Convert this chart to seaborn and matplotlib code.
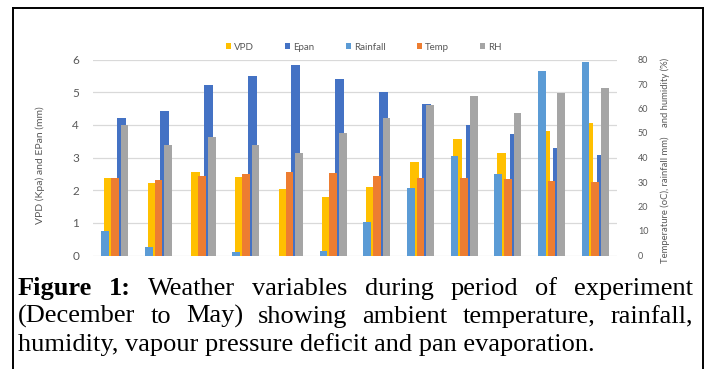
import numpy as np
import pandas as pd
import seaborn as sns
import matplotlib
matplotlib.use("Agg")
import matplotlib.pyplot as plt
from matplotlib.patches import Patch
from matplotlib.lines import Line2D

# ---------------- data ----------------
periods = ["Dec I", "Dec II", "Jan I", "Jan II", "Feb I", "Feb II",
           "Mar I", "Mar II", "Apr I", "Apr II", "May I", "May II"]
vpd = [2.36, 2.21, 2.57, 2.39, 2.04, 1.80, 2.09, 2.85, 3.57, 3.15, 3.80, 4.06]
epan = [4.20, 4.41, 5.21, 5.51, 5.84, 5.41, 5.02, 4.63, 4.01, 3.71, 3.30, 3.09]
rainfall = [10.2, 3.3, 0.0, 1.4, 0.0, 1.8, 13.7, 27.6, 40.8, 33.2, 75.5, 78.8]
temp = [31.8, 30.9, 32.5, 33.2, 34.1, 33.5, 32.5, 31.8, 31.6, 31.2, 30.5, 30.2]
rh = [53.2, 44.9, 48.3, 44.9, 42.0, 50.2, 56.1, 61.4, 65.3, 58.1, 66.3, 68.3]

left_ticks = [0, 1, 2, 3, 4, 5, 6]
right_ticks = [0, 10, 20, 30, 40, 50, 60, 70, 80]

series_names = ["VPD", "Epan", "Rainfall", "Temp", "RH"]
colors = {"VPD": "#FFC000", "Epan": "#4472C4", "Rainfall": "#5B9BD5",
          "Temp": "#ED7D31", "RH": "#A5A5A5"}

left_label = "VPD (Kpa) and EPan (mm)"
right_label = "Temperature (oC), rainfall mm)    and humidity (%)"

caption_line1 = [("Figure", "bold"), ("1:", "bold"), ("Weather", "normal"),
                 ("variables", "normal"), ("during", "normal"), ("period", "normal"),
                 ("of", "normal"), ("experiment", "normal")]
caption_line2 = ["(December", "to", "May)", "showing", "ambient",
                 "temperature,", "rainfall,"]
caption_line3 = "humidity, vapour pressure deficit and pan evaporation."

# ---------------- frames ----------------
df_primary = pd.DataFrame({
    "period": periods * 2,
    "series": ["VPD"] * len(periods) + ["Epan"] * len(periods),
    "value": vpd + epan,
})
df_secondary = pd.DataFrame({
    "period": periods * 3,
    "series": ["Rainfall"] * len(periods) + ["Temp"] * len(periods) + ["RH"] * len(periods),
    "value": rainfall + temp + rh,
})

# ---------------- figure ----------------
W, H = 707, 369
fig = plt.figure(figsize=(W / 100, H / 100), dpi=100)
fig.patch.set_facecolor("white")

ax1 = fig.add_axes([93 / W, 1 - 255.5 / H, 524 / W, 196 / H])
ax2 = ax1.twinx()

tick_color = "#595959"
chart_font = "Lato"

sns.barplot(data=df_primary, x="period", y="value", hue="series",
            hue_order=["VPD", "Epan"], order=periods,
            palette=[colors["VPD"], colors["Epan"]], saturation=1,
            width=0.58, gap=0.27, linewidth=0, errorbar=None,
            legend=False, ax=ax1)
sns.barplot(data=df_secondary, x="period", y="value", hue="series",
            hue_order=["Rainfall", "Temp", "RH"], order=periods,
            palette=[colors["Rainfall"], colors["Temp"], colors["RH"]], saturation=1,
            width=0.67, gap=0.2, linewidth=0, errorbar=None,
            legend=False, ax=ax2)

for ax in (ax1, ax2):
    ax.set_xlim(-0.5, len(periods) - 0.5)
    for s in ax.spines.values():
        s.set_visible(False)
    ax.set_xlabel("")
    ax.set_xticks([])
    ax.tick_params(length=0, labelsize=8, labelcolor=tick_color)
    for lab in ax.get_yticklabels():
        lab.set_fontfamily(chart_font)

ax1.set_ylim(0, 6)
ax1.set_yticks(left_ticks)
ax1.set_yticklabels([str(t) for t in left_ticks], fontfamily=chart_font,
                    fontsize=8.5, color=tick_color)
ax1.tick_params(axis="y", pad=10)
ax1.yaxis.grid(True, color="#D9D9D9", linewidth=0.9)
ax1.set_axisbelow(True)

ax2.set_ylim(0, 80)
ax2.set_yticks(right_ticks)
ax2.set_yticklabels([str(t) for t in right_ticks], fontfamily=chart_font,
                    fontsize=6.5, color=tick_color)
ax2.tick_params(axis="y", pad=15)

ax1.set_ylabel(left_label, fontfamily=chart_font, fontsize=7.5, color=tick_color)
ax1.yaxis.set_label_coords((45 - 93) / 524, (255.5 - 165) / 196)
ax2.set_ylabel(right_label, fontfamily=chart_font, fontsize=6.8, color=tick_color)
ax2.yaxis.set_label_coords((660 - 93) / 524, (255.5 - 160) / 196)

handles = [Patch(facecolor=colors[n], edgecolor="none") for n in series_names]
leg = fig.legend(handles, series_names, loc="center",
                 bbox_to_anchor=(364 / W, 1 - 47 / H), ncol=5, frameon=False,
                 fontsize=7, handlelength=0.5, handleheight=0.5,
                 handletextpad=0.35, columnspacing=3.2,
                 prop={"family": chart_font, "size": 7})
for t in leg.get_texts():
    t.set_color(tick_color)

# ---------------- border ----------------
border_kw = dict(color="black", linewidth=1.4, transform=fig.transFigure)
fig.add_artist(Line2D([12.5 / W, 12.5 / W], [0, 1 - 7.5 / H], **border_kw))
fig.add_artist(Line2D([702.5 / W, 702.5 / W], [0, 1 - 7.5 / H], **border_kw))
fig.add_artist(Line2D([12.5 / W, 702.5 / W], [1 - 7.5 / H, 1 - 7.5 / H], **border_kw))

# ---------------- caption (justified) ----------------
serif = "Liberation Serif"
renderer = fig.canvas.get_renderer()


def text_width(s, weight, size):
    t = fig.text(0, 0, s, fontsize=size, fontweight=weight, family=serif)
    w = t.get_window_extent(renderer).width
    t.remove()
    return w


cap_size = 10 * 577 / text_width(caption_line3, "normal", 10)
left_x, right_x = 18, 693


def justify(words, baseline):
    widths = [text_width(w, wt, cap_size) for w, wt in words]
    gap = (right_x - left_x - sum(widths)) / (len(words) - 1)
    x = left_x
    for (w, wt), wd in zip(words, widths):
        fig.text(x / W, 1 - baseline / H, w, fontsize=cap_size, fontweight=wt,
                 family=serif, va="baseline", ha="left", color="black")
        x += wd + gap


justify(caption_line1, 295)
justify([(w, "normal") for w in caption_line2], 323)
fig.text(left_x / W, 1 - 351 / H, caption_line3, fontsize=cap_size,
         family=serif, va="baseline", ha="left", color="black")

fig.savefig("out.png", dpi=100, facecolor="white")
